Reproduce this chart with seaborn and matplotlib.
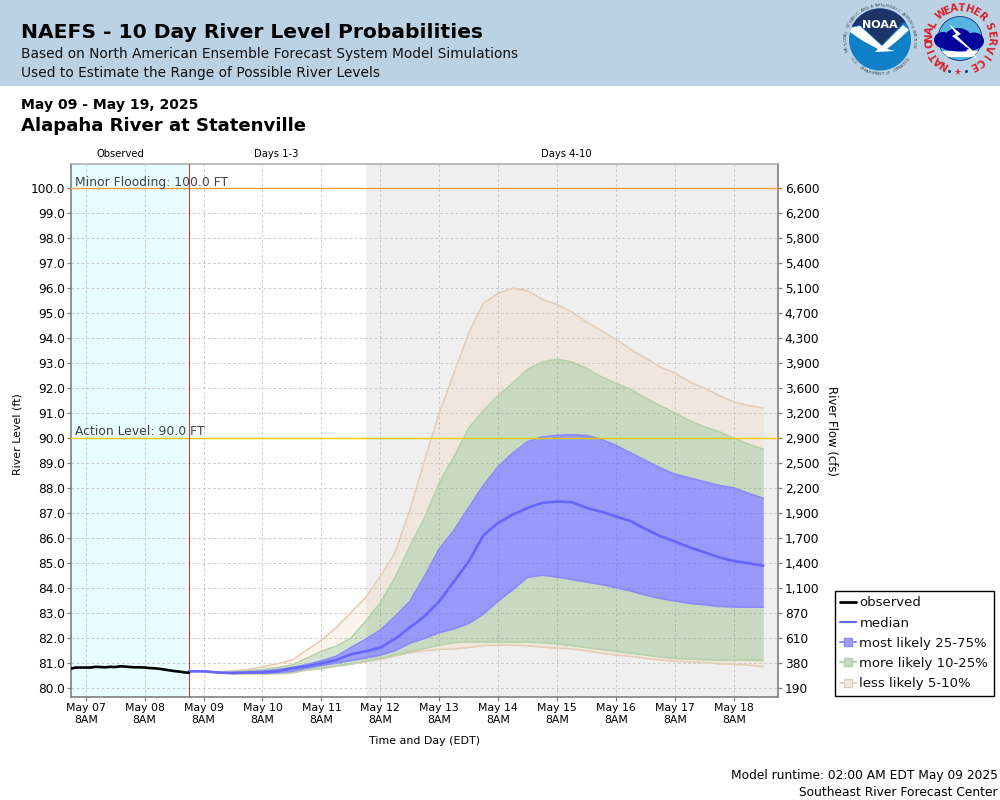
import numpy as np
import pandas as pd
import matplotlib
matplotlib.use("Agg")
import matplotlib.pyplot as plt
from matplotlib.lines import Line2D
from matplotlib.patches import Circle, Ellipse, Polygon, Rectangle
import seaborn as sns

# observed stage, every 2 hours from May 07 02:00
observed = [80.76, 80.80, 80.80, 80.80, 80.80, 80.83, 80.82, 80.81, 80.83, 80.82,
            80.85, 80.84, 80.82, 80.81, 80.81, 80.80, 80.78, 80.77, 80.75, 80.72,
            80.69, 80.66, 80.64, 80.61, 80.59]

# forecast percentiles, every 6 hours from May 09 02:00
p95 = [80.65, 80.65, 80.62, 80.67, 80.72, 80.83, 80.95, 81.1, 81.5, 81.9,
       82.4, 83.0, 83.6, 84.45, 85.4, 87.1, 89.1, 91.0, 92.6, 94.2,
       95.4, 95.8, 96.0, 95.9, 95.55, 95.35, 95.05, 94.65, 94.3, 93.95,
       93.55, 93.2, 92.85, 92.6, 92.25, 92.0, 91.7, 91.45, 91.3, 91.2]
p90 = [80.65, 80.65, 80.6, 80.63, 80.67, 80.72, 80.8, 80.9, 81.17, 81.45,
       81.65, 81.98, 82.65, 83.4, 84.4, 85.65, 86.8, 88.2, 89.25, 90.4,
       91.1, 91.7, 92.2, 92.75, 93.05, 93.15, 93.05, 92.8, 92.45, 92.2,
       91.95, 91.6, 91.3, 91.0, 90.7, 90.45, 90.25, 90.0, 89.75, 89.55]
p75 = [80.65, 80.65, 80.6, 80.6, 80.63, 80.66, 80.72, 80.8, 80.92, 81.07,
       81.25, 81.6, 81.93, 82.3, 82.85, 83.45, 84.45, 85.55, 86.3, 87.2,
       88.1, 88.85, 89.4, 89.85, 90.05, 90.1, 90.13, 90.1, 89.95, 89.7,
       89.4, 89.1, 88.8, 88.55, 88.4, 88.25, 88.1, 88.0, 87.78, 87.58]
median = [80.65, 80.65, 80.6, 80.58, 80.6, 80.6, 80.65, 80.77, 80.85, 80.97,
          81.1, 81.33, 81.45, 81.6, 81.95, 82.4, 82.85, 83.45, 84.25, 85.05,
          86.1, 86.6, 86.93, 87.2, 87.4, 87.45, 87.43, 87.2, 87.05, 86.85,
          86.67, 86.35, 86.07, 85.85, 85.62, 85.42, 85.22, 85.07, 84.98, 84.88]
p25 = [80.65, 80.65, 80.6, 80.57, 80.58, 80.58, 80.6, 80.65, 80.78, 80.88,
       80.98, 81.08, 81.18, 81.3, 81.48, 81.78, 81.97, 82.2, 82.35, 82.57,
       82.95, 83.47, 83.93, 84.42, 84.5, 84.43, 84.33, 84.23, 84.13, 84.0,
       83.87, 83.7, 83.57, 83.47, 83.37, 83.32, 83.25, 83.23, 83.22, 83.22]
p10 = [80.65, 80.65, 80.6, 80.56, 80.56, 80.56, 80.56, 80.6, 80.72, 80.77,
       80.87, 80.95, 81.05, 81.17, 81.3, 81.43, 81.57, 81.7, 81.8, 81.83,
       81.83, 81.83, 81.82, 81.82, 81.8, 81.75, 81.68, 81.6, 81.53, 81.45,
       81.38, 81.3, 81.22, 81.17, 81.14, 81.12, 81.1, 81.1, 81.1, 81.08]
p05 = [80.65, 80.65, 80.6, 80.55, 80.55, 80.55, 80.55, 80.58, 80.7, 80.75,
       80.85, 80.93, 81.03, 81.13, 81.26, 81.4, 81.47, 81.53, 81.55, 81.6,
       81.68, 81.7, 81.7, 81.67, 81.62, 81.58, 81.55, 81.47, 81.38, 81.3,
       81.25, 81.17, 81.1, 81.05, 81.02, 81.0, 80.95, 80.93, 80.9, 80.83]

level_ticks = list(range(80, 101))
flow_labels = ["190", "380", "610", "870", "1,100", "1,400", "1,700", "1,900", "2,200", "2,500", "2,900",
               "3,200", "3,600", "3,900", "4,300", "4,700", "5,100", "5,400", "5,800", "6,200", "6,600"]

obs_times = pd.date_range("2025-05-07 02:00", periods=len(observed), freq="2h")
fcst_times = pd.date_range("2025-05-09 02:00", periods=len(median), freq="6h")
day_ticks = pd.date_range("2025-05-07 08:00", periods=12, freq="D")

start = pd.Timestamp("2025-05-07 02:00")
now = pd.Timestamp("2025-05-09 02:00")
day3 = pd.Timestamp("2025-05-12 02:00")
end = pd.Timestamp("2025-05-19 02:00")

BLUE, GREEN, TAN = "#5f5fff", "#64a050", "#efc896"
BLUE_EDGE, GREEN_EDGE, TAN_EDGE = "#8a8af8", "#b6d2aa", "#e5ceb4"

sns.set_theme(style="white")
plt.rcParams["font.family"] = ["DejaVu Sans"]

fig = plt.figure(figsize=(10, 8), dpi=100)
ax = fig.add_axes([71 / 1000, 1 - 697 / 800, 707 / 1000, 533 / 800])

ax.axvspan(start, now, color="#e8fdff", lw=0, zorder=0)
ax.axvspan(day3, end, color="#efefef", lw=0, zorder=0)

ax.set_xticks(day_ticks)
ax.set_xticklabels([d.strftime("%b %d") + "\n8AM" for d in day_ticks], fontsize=7.8, color="black", linespacing=1.25)
ax.set_yticks(level_ticks)
ax.set_yticklabels(["%.1f" % v for v in level_ticks], fontsize=8.7, color="black")
ax.grid(True, color="#c6c6c6", lw=0.7, ls=(0, (2.6, 2.6)), zorder=1)
ax.set_axisbelow(True)

ax.fill_between(fcst_times, p05, p10, color=TAN, alpha=0.2, lw=0, zorder=2)
ax.fill_between(fcst_times, p90, p95, color=TAN, alpha=0.2, lw=0, zorder=2)
ax.fill_between(fcst_times, p10, p25, color=GREEN, alpha=0.28, lw=0, zorder=2)
ax.fill_between(fcst_times, p75, p90, color=GREEN, alpha=0.28, lw=0, zorder=2)
ax.fill_between(fcst_times, p25, p75, color=BLUE, alpha=0.6, lw=0, zorder=2)

for series, col in [(p05, TAN_EDGE), (p95, TAN_EDGE), (p10, GREEN_EDGE), (p90, GREEN_EDGE),
                    (p25, BLUE_EDGE), (p75, BLUE_EDGE)]:
    sns.lineplot(x=fcst_times, y=series, color=col, lw=1.2, ax=ax, zorder=3)

ax.axhline(100, color="#ffa040", lw=1.0, zorder=4)
ax.axhline(90, color="#ffcc00", lw=1.0, zorder=4)
ax.axvline(now, color="#cf3a3a", lw=0.8, zorder=4)

sns.lineplot(x=fcst_times, y=median, color="#6666ff", lw=1.9, ax=ax, zorder=5)
sns.lineplot(x=obs_times, y=observed, color="black", lw=1.9, ax=ax, zorder=6)

ax.text(pd.Timestamp("2025-05-07 03:30"), 100.08, "Minor Flooding: 100.0 FT", fontsize=8.9, color="#444444", zorder=7)
ax.text(pd.Timestamp("2025-05-07 03:30"), 90.11, "Action Level: 90.0 FT", fontsize=8.9, color="#444444", zorder=7)

ax.set_xlim(start, end)
ax.set_ylim(79.62, 100.98)
ax.set_xlabel("Time and Day (EDT)", fontsize=7.9, color="black", labelpad=8)
ax.set_ylabel("River Level (ft)", fontsize=7.9, color="black")
ax.yaxis.set_label_coords(-0.068, 0.493)
ax.tick_params(axis="both", direction="out", length=3, width=0.9, color="#808080", bottom=True, left=True, pad=1.2)

for side in ["left", "right", "bottom"]:
    ax.spines[side].set_color("#808080")
    ax.spines[side].set_linewidth(1.2)
ax.spines["top"].set_color("#b0b0b0")
ax.spines["top"].set_linewidth(1.2)

flow_ax = ax.twinx()
flow_ax.set_ylim(ax.get_ylim())
flow_ax.set_yticks(level_ticks)
flow_ax.set_yticklabels(flow_labels, fontsize=8.7, color="black")
flow_ax.tick_params(axis="y", direction="out", length=3, width=0.9, color="#808080", right=True, pad=1.8)
flow_ax.set_ylabel("River Flow (cfs)", fontsize=8.4, color="black", rotation=270)
flow_ax.yaxis.set_label_coords(1.085, 0.5)
for spine in flow_ax.spines.values():
    spine.set_visible(False)

handles = [
    Line2D([], [], color="black", lw=2),
    Line2D([], [], color="#6666ff", lw=1.6),
    Line2D([], [], color=BLUE_EDGE, lw=1.4, marker="s", ms=6, mfc="#9e9efa", mec=BLUE_EDGE),
    Line2D([], [], color=GREEN_EDGE, lw=1.4, marker="s", ms=6, mfc="#c8d6c2", mec=GREEN_EDGE),
    Line2D([], [], color=TAN_EDGE, lw=1.4, marker="s", ms=6, mfc="#efe7dd", mec=TAN_EDGE),
]
names = ["observed", "median", "most likely 25-75%", "more likely 10-25%", "less likely 5-10%"]
leg = fig.legend(handles, names, loc="upper left", bbox_to_anchor=(835 / 1000, 1 - 591 / 800),
                 bbox_transform=fig.transFigure, fontsize=9.5, frameon=True, fancybox=False,
                 edgecolor="black", facecolor="white", framealpha=1, borderaxespad=0, borderpad=0.4,
                 labelspacing=0.55, handlelength=1.2, handletextpad=0.25, labelcolor="#111111")
leg.get_frame().set_linewidth(1.0)

# page furniture, in pixel coordinates
page = fig.add_axes([0, 0, 1, 1], zorder=-1)
page.set_xlim(0, 1000)
page.set_ylim(800, 0)
page.axis("off")
page.add_patch(Rectangle((0, 0), 1000, 86, color="#bbd2e5", lw=0))
page.text(21, 33, "NAEFS - 10 Day River Level Probabilities", fontsize=14.6, fontweight="bold", va="center", color="black")
page.text(21, 54, "Based on North American Ensemble Forecast System Model Simulations", fontsize=9.95, va="center", color="#111111")
page.text(21, 73, "Used to Estimate the Range of Possible River Levels", fontsize=9.95, va="center", color="#111111")
page.text(21, 105, "May 09 - May 19, 2025", fontsize=10.1, fontweight="bold", va="center", color="black")
page.text(21, 126, "Alapaha River at Statenville", fontsize=13.1, fontweight="bold", va="center", color="black")
page.text(120, 154, "Observed", fontsize=7.2, ha="center", va="center", color="black")
page.text(276, 154, "Days 1-3", fontsize=7.2, ha="center", va="center", color="black")
page.text(566, 154, "Days 4-10", fontsize=7.2, ha="center", va="center", color="black")
page.text(998, 776, "Model runtime: 02:00 AM EDT May 09 2025", fontsize=8.85, ha="right", va="center", color="black")
page.text(998, 792, "Southeast River Forecast Center", fontsize=8.85, ha="right", va="center", color="black")


def arc_text(cx, cy, r, text, a0, a1, size, color, weight="normal", flip=False):
    # one letter at a time, angles in degrees clockwise from the top
    for ch, a in zip(text, np.linspace(a0, a1, len(text))):
        rad = np.radians(a)
        rot = 180 - a if flip else -a
        page.text(cx + r * np.sin(rad), cy - r * np.cos(rad), ch, fontsize=size, color=color,
                  fontweight=weight, rotation=rot, ha="center", va="center")


# NOAA logo
nx, ny = 880, 39.5
inner = Circle((nx, ny), 31, color="#0f7fc8", lw=0)
page.add_patch(inner)
navy = Polygon([(846, 0), (915, 0), (915, 20), (903, 23), (882, 45), (860, 25), (846, 28)], color="#1c3468", lw=0)
page.add_patch(navy)
navy.set_clip_path(inner)
bird = Polygon([(849, 28), (860, 26), (882, 46), (903, 25), (909, 30), (897, 41), (887, 49), (895, 51),
                (875, 52), (878, 49), (863, 41), (850, 32)], color="white", lw=0)
page.add_patch(bird)
bird.set_clip_path(inner)
page.text(nx, 25, "NOAA", fontsize=8, fontweight="bold", color="white", ha="center", va="center")
arc_text(nx, ny, 34, "NATIONAL OCEANIC AND ATMOSPHERIC ADMINISTRATION", -108, 100, 3, "#3a4a5a")
arc_text(nx, ny, 34.5, "U.S. DEPARTMENT OF COMMERCE", 237, 125, 3, "#3a4a5a", flip=True)

# NWS logo
wx, wy = 960, 38.5
disc = Circle((wx, wy), 22, color="#56b4e0", ec="#10308a", lw=0.6)
page.add_patch(disc)
low = Rectangle((wx - 23, wy + 12), 46, 6, color="white", lw=0)
page.add_patch(low)
low.set_clip_path(disc)
for ex, ey, ew, eh in [(943, 40, 18, 16), (958, 39, 28, 22), (974, 41, 20, 17), (960, 47, 36, 9)]:
    page.add_patch(Ellipse((ex, ey), ew, eh, color="#04049a", lw=0))
page.add_patch(Polygon([(949, 24), (961, 34), (957, 36), (972, 50), (977, 59), (966, 50), (969, 49),
                        (952, 36), (956, 34)], color="white", lw=0))
arc_text(wx, wy, 30.5, "NATIONAL", -149, -63, 7.3, "#d9202a", "bold")
arc_text(wx, wy, 30.5, "WEATHER", -38, 45, 7.3, "#d9202a", "bold")
arc_text(wx, wy, 30.5, "SERVICE", 67, 153, 7.3, "#d9202a", "bold")
page.plot([949.3, 966], [70.7, 70.7], ls="", marker="o", ms=2.2, color="#1c3c9a", mew=0)
page.plot([957.7], [72], ls="", marker="*", ms=5.5, color="#d9202a", mew=0)

fig.savefig("out.png", dpi=100)
